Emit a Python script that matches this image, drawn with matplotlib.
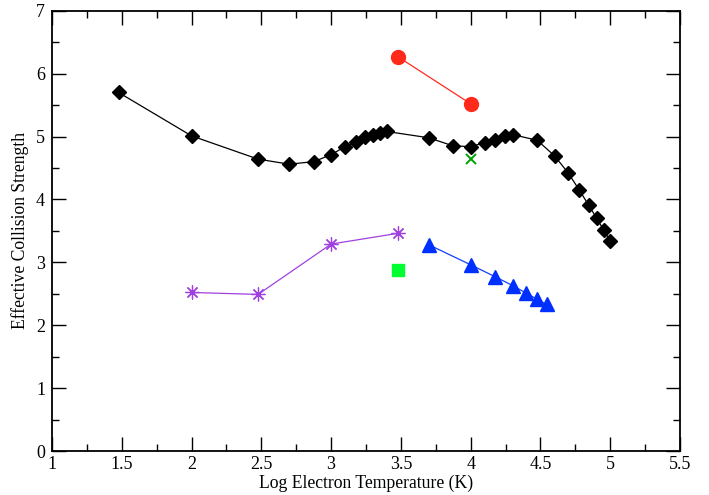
import matplotlib
matplotlib.use("Agg")
import matplotlib.pyplot as plt
from matplotlib.ticker import MultipleLocator

plt.rcParams['font.family'] = ['Liberation Serif', 'DejaVu Serif']

# Black diamonds series
t_black = [1.477, 2.0, 2.477, 2.699, 2.875, 3.0, 3.1, 3.176, 3.243, 3.301, 3.352, 3.398,
           3.699, 3.875, 4.0, 4.1, 4.176, 4.243, 4.301, 4.477, 4.602, 4.699, 4.778,
           4.845, 4.903, 4.954, 5.0]
y_black = [5.70, 5.01, 4.64, 4.56, 4.60, 4.71, 4.84, 4.91, 4.99, 5.02, 5.06, 5.08,
           4.98, 4.85, 4.84, 4.90, 4.95, 5.01, 5.03, 4.94, 4.69, 4.42, 4.15,
           3.91, 3.70, 3.51, 3.34]

# Red circles
t_red = [3.477, 4.0]
y_red = [6.27, 5.52]

# Green cross
t_gx = [4.0]
y_gx = [4.64]

# Purple asterisks
t_purple = [2.0, 2.477, 3.0, 3.477]
y_purple = [2.52, 2.49, 3.29, 3.46]

# Green square
t_gs = [3.477]
y_gs = [2.88]

# Blue triangles
t_blue = [3.699, 4.0, 4.176, 4.301, 4.398, 4.477, 4.544]
y_blue = [3.28, 2.96, 2.77, 2.63, 2.51, 2.41, 2.33]

fig = plt.figure(figsize=(7.09, 4.95), dpi=100)
ax = fig.add_axes([52/709, 44/495, (680-52)/709, (451-10.7)/495])

ax.plot(t_black, y_black, color='black', lw=0.9, marker='D', ms=7.5, mfc='black', mec='black')
ax.plot(t_red, y_red, color='#ff2a1a', lw=0.9, marker='o', ms=10, mfc='#ff2a1a', mec='#ff2a1a')
ax.plot(t_gx, y_gx, ls='none', marker='x', ms=7, mew=1.4, color='#00a000')
ax.plot(t_purple, y_purple, color='#a040e0', lw=0.9, marker=(8, 2, 0), ms=10, mew=0.9,
        mec='#a040e0')
ax.plot(t_gs, y_gs, ls='none', marker='s', ms=8, color='#00ff30')
ax.plot(t_blue, y_blue, color='#1040ff', lw=0.9, marker='^', ms=10, mfc='#0030ff', mec='#0030ff')

ax.set_xlim(1, 5.5)
ax.set_ylim(0, 7)
ax.xaxis.set_major_locator(MultipleLocator(0.5))
ax.xaxis.set_minor_locator(MultipleLocator(0.25))
ax.yaxis.set_major_locator(MultipleLocator(1))
ax.yaxis.set_minor_locator(MultipleLocator(0.5))
ax.xaxis.set_major_formatter(matplotlib.ticker.FuncFormatter(lambda v, p: ('%g' % v)))
ax.tick_params(which='both', direction='in', top=True, right=True, labelsize=13, width=1)
ax.tick_params(which='major', length=10)
ax.tick_params(which='minor', length=5)
ax.tick_params(axis='y', pad=5)
for s in ax.spines.values():
    s.set_linewidth(1.3)

ax.set_xlabel('Log Electron Temperature (K)', fontsize=12.7, labelpad=1)
ax.set_ylabel('Effective Collision Strength', fontsize=12.7, labelpad=5)

fig.savefig('out.png', dpi=100)
